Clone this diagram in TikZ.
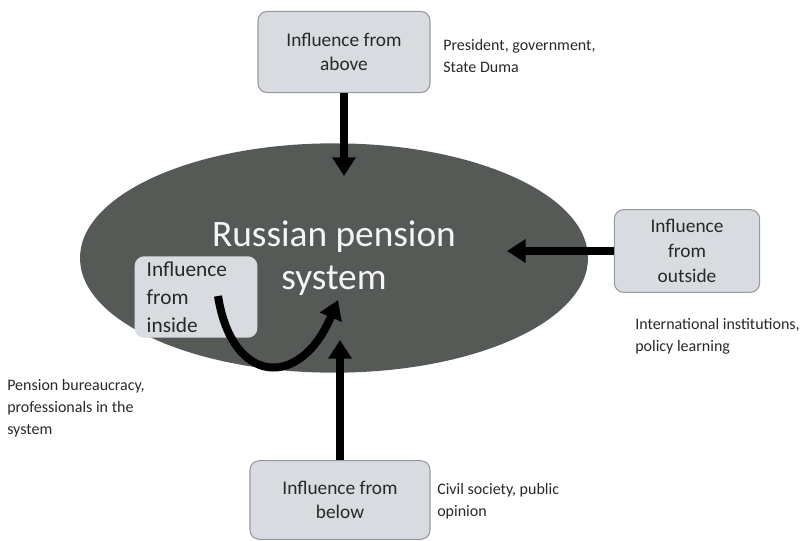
\documentclass[tikz,border=0pt]{standalone}
\usepackage{fontspec}
\setmainfont{Carlito}
\usetikzlibrary{shapes.geometric,arrows.meta}
\definecolor{ovalgray}{RGB}{85,90,86}
\definecolor{boxfill}{RGB}{216,219,224}
\definecolor{boxline}{RGB}{150,154,160}
\definecolor{textgray}{RGB}{40,40,40}
\begin{document}
\begin{tikzpicture}[x=0.75pt,y=-0.75pt,
	influence/.style={draw=boxline, fill=boxfill, rounded corners=7pt, line width=0.8pt,
		align=center, text=textgray, font=\fontsize{14.5}{18.5}\selectfont},
	remark/.style={anchor=west, align=left, inner sep=0pt, text=textgray,
		font=\fontsize{12}{16.5}\selectfont},
	push/.style={line width=6pt, -{Triangle[width=17pt,length=14pt]}}]
	\useasboundingbox (0,0) rectangle (805,540);

	% система
	\node [ellipse, fill=ovalgray, minimum width=381pt, minimum height=172pt, inner sep=0pt,
		align=center, text=white!92!gray, font=\fontsize{28}{32}\selectfont]
		(system) at ( 334, 258 ) {Russian pension\\system};

	% влияние сверху
	\node [influence, minimum width=129pt, minimum height=61pt] (above) at ( 344, 52 ) {Influence from\\above};
	\node [remark] (aboveinfo) at ( 443, 56 ) {President, government,\\State Duma};
	\coordinate (abovetip) at ( 344, 176 );
	\draw [push] (above) -- (abovetip);

	% влияние извне
	\node [influence, minimum width=109pt, minimum height=62pt] (outside) at ( 687, 251 ) {Influence\\from\\outside};
	\node [remark] (outsideinfo) at ( 635, 336 ) {International institutions,\\policy learning};
	\coordinate (outsidetip) at ( 507, 251 );
	\draw [push] (outside) -- (outsidetip);

	% влияние снизу
	\node [influence, minimum width=135pt, minimum height=59pt] (below) at ( 340, 500 ) {Influence from\\below};
	\node [remark] (belowinfo) at ( 437, 501 ) {Civil society, public\\opinion};
	\coordinate (belowtip) at ( 340, 340 );
	\draw [push] (below) -- (belowtip);

	% влияние изнутри
	\node [fill=boxfill, rounded corners=7pt, minimum width=92pt, minimum height=61pt,
		inner xsep=9pt, inner ysep=2pt, text width=74pt, align=left, text=textgray,
		font=\fontsize{16}{21}\selectfont]
		(inside) at ( 196, 297 ) {Influence\\from\\inside};
	\node [remark] (insideinfo) at ( 7, 408 ) {Pension bureaucracy,\\professionals in the\\system};
	\coordinate (insidestart) at ( 218, 296 );
	\coordinate (insidetip) at ( 338, 300 );
	\draw [push] (insidestart) .. controls ( 232, 385 ) and ( 300, 390 ) .. (insidetip);
\end{tikzpicture}
\end{document}
